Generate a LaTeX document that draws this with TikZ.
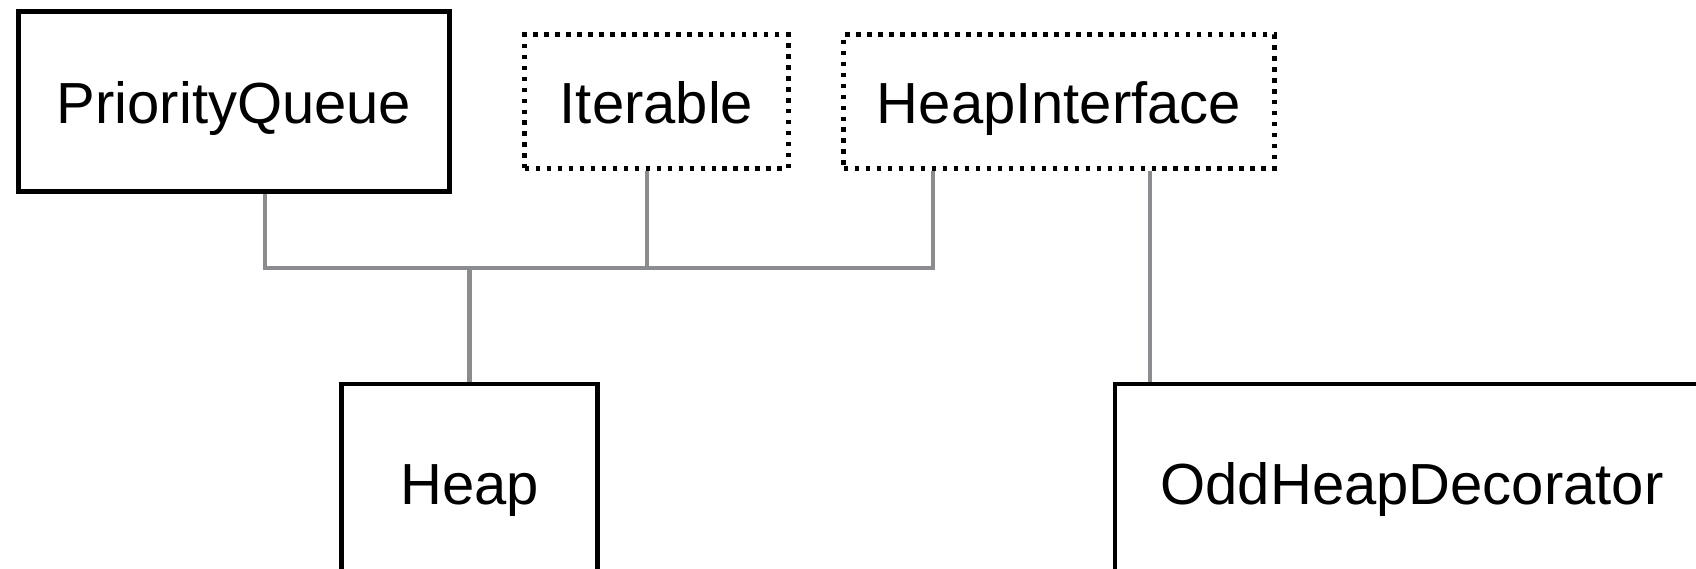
\documentclass[tikz,border=0pt]{standalone}
\usepackage{fontspec}
\setmainfont{Liberation Sans}
\usetikzlibrary{positioning,calc}
\definecolor{linkgray}{RGB}{138,140,143}

\begin{document}
\begin{tikzpicture}[x=0.02cm,y=-0.02cm,
  cls/.style={draw,rectangle,line width=0.095cm,inner sep=0pt,text height=27.5pt,text depth=2.5pt,font=\fontsize{33}{40}\selectfont},
  iface/.style={cls,dash pattern=on 0.09cm off 0.13cm},
  link/.style={draw=linkgray,line width=0.09cm}]
\useasboundingbox (0,0) rectangle (1696,568);
\node[cls,minimum width=8.62cm,minimum height=3.6cm](pq) at (234,101.5){PriorityQueue};
\node[iface,minimum width=5.28cm,minimum height=2.68cm](iter) at (656.5,101.5){Iterable};
\node[iface,minimum width=8.62cm,minimum height=2.68cm](hif) at (1059,101.5){HeapInterface};
\node[cls,minimum width=5.12cm,minimum height=3.96cm](heap) at (469.5,483){Heap};
\node[cls,minimum width=11.88cm,minimum height=3.96cm](odd) at (1412,483){OddHeapDecorator};
\coordinate (bus) at (469.5,268);
\draw[link] ([xshift=0.62cm]pq.south) |- (bus);
\draw[link] ([xshift=-0.19cm]iter.south) |- (bus);
\draw[link] ([xshift=-2.52cm]hif.south) |- (bus);
\draw[link] (bus) -- (heap.north);
\draw[link] ([xshift=1.82cm]hif.south) -- ([xshift=1.82cm]hif.south |- odd.north);
\end{tikzpicture}
\end{document}
